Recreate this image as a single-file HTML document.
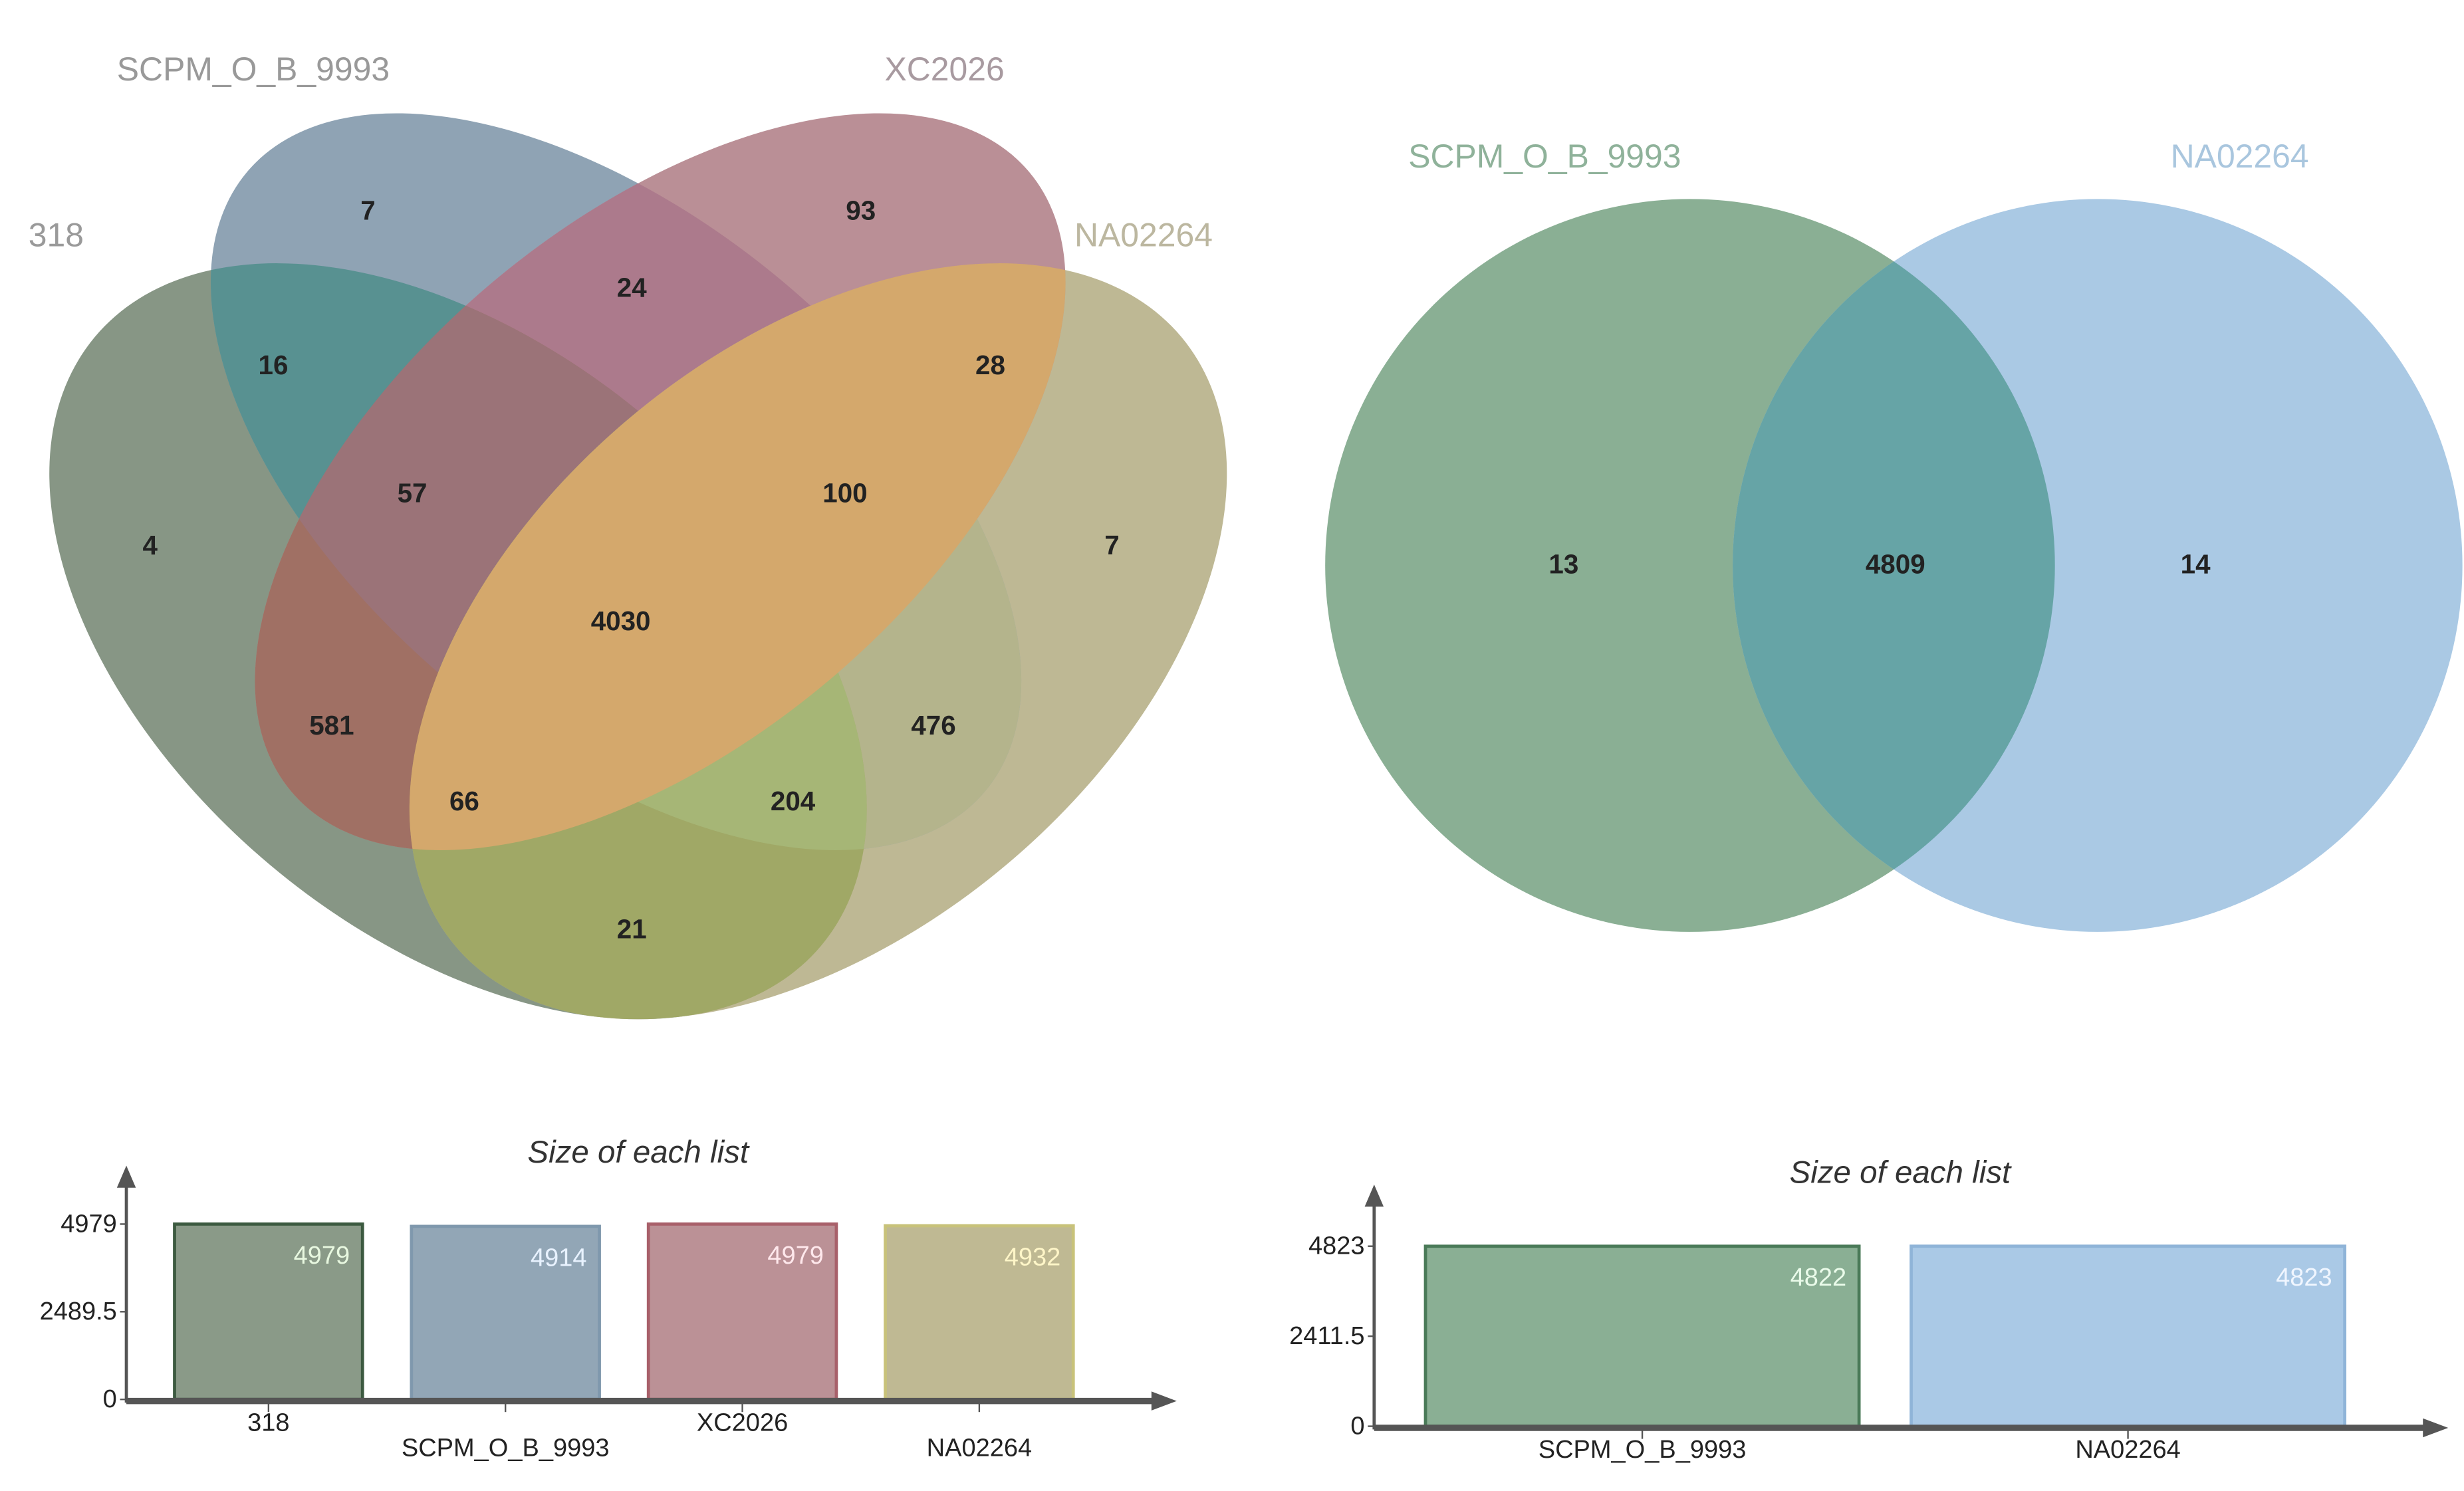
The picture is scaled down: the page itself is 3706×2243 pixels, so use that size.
<!DOCTYPE html>
<html><head><meta charset="utf-8"><style>
html,body{margin:0;padding:0;background:#fff;}
svg{display:block;font-family:"Liberation Sans",sans-serif;}
</style></head><body>
<svg id="chart" width="3706" height="2243" viewBox="0 0 1560 944" preserveAspectRatio="none" xmlns="http://www.w3.org/2000/svg">
<defs id="defs"></defs>
<g id="venn4"></g>
<g id="venn2"></g>
<g id="bars4"></g>
<g id="bars2"></g>
</svg>
<script>
const NS='http://www.w3.org/2000/svg';
// ---- data ----
const venn4Sets=['318','SCPM_O_B_9993','XC2026','NA02264'];
const venn4Regions=['4','7','93','7','16','24','28','57','100','4030','581','476','66','204','21'];
const venn2Sets=['SCPM_O_B_9993','NA02264'];
const venn2Regions=['13','4809','14'];
const bar4Categories=['318','SCPM_O_B_9993','XC2026','NA02264'];
const bar4Values=[4979,4914,4979,4932];
const bar4Ticks=[0,2489.5,4979];
const bar2Categories=['SCPM_O_B_9993','NA02264'];
const bar2Values=[4822,4823];
const bar2Ticks=[0,2411.5,4823];

function mk(tag,attrs,parent,text){const e=document.createElementNS(NS,tag);for(const k in attrs)e.setAttribute(k,attrs[k]);if(text!==undefined)e.textContent=text;parent.appendChild(e);return e;}
const defs=document.getElementById('defs');

// ---- 4-set venn ----
const v4=document.getElementById('venn4');
const ell=[
 {cx:290,cy:406,rx:300,ry:185,rot:40,fill:'rgb(135,150,133)'},
 {cx:390,cy:305,rx:305,ry:165,rot:40,fill:'rgb(143,163,180)'},
 {cx:418,cy:305,rx:305,ry:165,rot:-40,fill:'rgb(186,143,150)'},
 {cx:518,cy:406,rx:300,ry:185,rot:-40,fill:'rgb(190,184,148)'}];
const ellNames=['ellipse-318','ellipse-scpm','ellipse-xc2026','ellipse-na02264'];
function ellAttrs(e){return {cx:e.cx,cy:e.cy,rx:e.rx,ry:e.ry,transform:`rotate(${e.rot} ${e.cx} ${e.cy})`};}
ell.forEach((e,i)=>{
 const cp=mk('clipPath',{id:'c'+i},defs);
 mk('ellipse',ellAttrs(e),cp);
});
[0,3,1,2].forEach(i=>{
 const el=mk('ellipse',Object.assign(ellAttrs(ell[i]),{fill:ell[i].fill}),v4);
 
 
});
// intersection overlays: [sets..., colour]
const overlays=[
 [[0,1],'rgb(88,145,145)'],
 [[1,2],'rgb(172,122,140)'],
 [[0,2],'rgb(160,112,100)'],
 [[0,1,2],'rgb(155,115,120)'],
 [[1,3],'rgb(180,180,140)'],
 [[0,3],'rgb(160,168,102)'],
 [[0,1,3],'rgb(166,182,118)'],
 [[2,3],'rgb(212,168,108)']];
overlays.forEach(o=>{
 const sets=o[0];
 let parent=v4;
 for(let k=0;k<sets.length-1;k++){parent=mk('g',{'clip-path':`url(#c${sets[k]})`},parent);}
 const el=mk('ellipse',Object.assign(ellAttrs(ell[sets[sets.length-1]]),{fill:o[1]}),parent);
 
 
});
const v4LabelPos=[[18,156,'#9a9a9a','start'],[74,51,'#999999','start'],[598,51,'#a89aa0','middle'],[724,156,'#bcb7a0','middle']];
venn4Sets.forEach((s,i)=>{
 const p=v4LabelPos[i];
 const t=mk('text',{x:p[0],y:p[1],fill:p[2],'font-size':21,'text-anchor':p[3]},v4,s);
 
 
});
const v4RegPos=[[95,345],[233,133],[545,133],[704,345],[173,231],[400,182],[627,231],[261,312],[535,312],[393,393],[210,459],[591,459],[294,507],[502,507],[400,588]];
venn4Regions.forEach((r,i)=>{
 const p=v4RegPos[i];
 const t=mk('text',{x:p[0],y:p[1]+6,fill:'#222','font-size':17,'font-weight':'bold','text-anchor':'middle'},v4,r);
 
 
});

// ---- 2-set venn ----
const v2=document.getElementById('venn2');
const circ=[{cx:1070,cy:358,fill:'rgb(138,175,148)'},{cx:1328,cy:358,fill:'rgb(170,201,228)'}];
circ.forEach((c,i)=>{
 const el=mk('ellipse',{cx:c.cx,cy:c.cy,rx:231,ry:232,fill:c.fill},v2);
 
 
});
mk('clipPath',{id:'cg'},defs).appendChild(Object.assign(document.createElementNS(NS,'ellipse')));
defs.lastChild.firstChild.setAttribute('cx',circ[0].cx);
defs.lastChild.firstChild.setAttribute('cy',circ[0].cy);
defs.lastChild.firstChild.setAttribute('rx',231);
defs.lastChild.firstChild.setAttribute('ry',232);
const lens=mk('ellipse',{cx:circ[1].cx,cy:circ[1].cy,rx:231,ry:232,fill:'rgb(102,164,166)','clip-path':'url(#cg)'},v2);


const v2LabelPos=[[978,106,'#8fb29a'],[1418,106,'#a9c6de']];
venn2Sets.forEach((s,i)=>{
 const t=mk('text',{x:v2LabelPos[i][0],y:v2LabelPos[i][1],fill:v2LabelPos[i][2],'font-size':21,'text-anchor':'middle'},v2,s);
 
 
});
const v2RegX=[990,1200,1390];
venn2Regions.forEach((r,i)=>{
 const t=mk('text',{x:v2RegX[i],y:363,fill:'#222','font-size':17,'font-weight':'bold','text-anchor':'middle'},v2,r);
 
 
});

// ---- bar charts ----
function barChart(g,cfg,cats,vals,ticks){
 const max=ticks[ticks.length-1];
 const y=v=>cfg.y0-(v/max)*(cfg.y0-cfg.yTop);
 const t=mk('text',{x:cfg.titleX,y:cfg.titleY,'font-size':20,'font-style':'italic',fill:'#333','text-anchor':'middle'},g,'Size of each list');
 
 
 const step=(cfg.xEnd-cfg.xStart)/cats.length;
 cats.forEach((c,i)=>{
  const x0=cfg.xStart+i*step+cfg.gap/2, w=step-cfg.gap;
  const r=mk('rect',{x:x0,y:y(vals[i]),width:w,height:cfg.y0-y(vals[i]),fill:cfg.colors[i],stroke:cfg.strokes[i],'stroke-width':2},g);
  
  
  const vt=mk('text',{x:x0+w-8,y:y(vals[i])+25,'font-size':16,fill:cfg.valColors[i],'text-anchor':'end'},g,String(vals[i]));
  
  
  const cx=x0+w/2;
  mk('line',{x1:cx,y1:cfg.y0,x2:cx,y2:cfg.y0+8,stroke:'#555','stroke-width':1},g);
  const ly=cfg.y0+(cfg.stagger&&i%2===1?36:20);
  const lt=mk('text',{x:cx,y:ly,'font-size':16,fill:'#222','text-anchor':'middle'},g,c);
  
  
 });
 const ya=mk('line',{x1:cfg.ax,y1:cfg.y0+2,x2:cfg.ax,y2:cfg.yArrow+10,stroke:'#555','stroke-width':2},g);
 
 
 mk('polygon',{points:`${cfg.ax-6},${cfg.yArrow+14} ${cfg.ax+6},${cfg.yArrow+14} ${cfg.ax},${cfg.yArrow}`,fill:'#555'},g);
 const xa=mk('line',{x1:cfg.ax,y1:cfg.y0+1,x2:cfg.xArrow-10,y2:cfg.y0+1,stroke:'#555','stroke-width':4},g);
 
 
 mk('polygon',{points:`${cfg.xArrow-16},${cfg.y0-5} ${cfg.xArrow-16},${cfg.y0+7} ${cfg.xArrow},${cfg.y0+1}`,fill:'#555'},g);
 ticks.forEach(v=>{
  mk('line',{x1:cfg.ax-4,y1:y(v),x2:cfg.ax,y2:y(v),stroke:'#555','stroke-width':1},g);
  const tt=mk('text',{x:cfg.ax-6,y:y(v)+5,'font-size':16,fill:'#222','text-anchor':'end'},g,String(v));
  
  
 });
}
barChart(document.getElementById('bars4'),{ax:80,y0:886,yTop:775,yArrow:738,xStart:95,xEnd:695,gap:31,xArrow:745,titleX:404,titleY:736,stagger:true,
 colors:['#8a9a88','#92a6b6','#bb9196','#bfb993'],strokes:['#3c5a40','#7f98ad','#a8606a','#c8c27a'],valColors:['#e8f8e0','#e8f2ff','#ffe8ec','#fff6c8']},
 bar4Categories,bar4Values,bar4Ticks);
barChart(document.getElementById('bars2'),{ax:870,y0:903,yTop:789,yArrow:750,xStart:886,xEnd:1501,gap:33,xArrow:1550,titleX:1203,titleY:749,stagger:false,
 colors:['#8aaf94','#aac9e6'],strokes:['#4a7a58','#8fb4d8'],valColors:['#eafbea','#f0f6ff']},
 bar2Categories,bar2Values,bar2Ticks);
</script>
</body></html>
